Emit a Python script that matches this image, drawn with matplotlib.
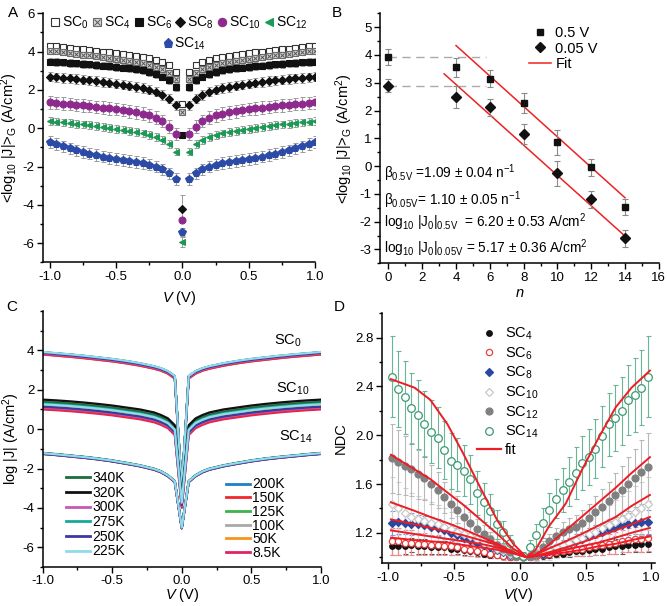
import numpy as np
import matplotlib
matplotlib.use('Agg')
import matplotlib.pyplot as plt
from matplotlib.ticker import MultipleLocator
from matplotlib.lines import Line2D

plt.rcParams['font.family'] = ['Liberation Sans', 'DejaVu Sans']
plt.rcParams['mathtext.fontset'] = 'custom'
plt.rcParams['mathtext.rm'] = 'Liberation Sans'
plt.rcParams['mathtext.it'] = 'Liberation Sans:italic'
plt.rcParams['mathtext.default'] = 'regular'
plt.rcParams['axes.unicode_minus'] = False

# ---- panel A: <log|J|>_G vs V (positive half, mirrored to negative bias)
a_pos = [0.05, 0.10, 0.15, 0.20, 0.25, 0.30, 0.35, 0.40, 0.45, 0.50,
         0.55, 0.60, 0.65, 0.70, 0.75, 0.80, 0.85, 0.90, 0.95, 1.00]
a_sc0 = [2.96, 3.30, 3.47, 3.58, 3.66, 3.73, 3.79, 3.84, 3.88, 3.92,
         3.96, 4.00, 4.04, 4.08, 4.12, 4.16, 4.20, 4.24, 4.28, 4.32]
a_sc4 = [2.55, 2.90, 3.10, 3.22, 3.32, 3.40, 3.47, 3.53, 3.58, 3.63,
         3.68, 3.73, 3.77, 3.81, 3.85, 3.89, 3.93, 3.97, 4.01, 4.05]
a_sc6 = [2.14, 2.50, 2.70, 2.85, 2.95, 3.02, 3.08, 3.13, 3.17, 3.21,
         3.24, 3.27, 3.30, 3.33, 3.36, 3.39, 3.42, 3.44, 3.46, 3.48]
a_sc8 = [1.20, 1.55, 1.75, 1.92, 2.02, 2.10, 2.17, 2.23, 2.28, 2.33,
         2.38, 2.42, 2.46, 2.50, 2.54, 2.57, 2.60, 2.63, 2.66, 2.70]
a_sc10 = [-0.30, 0.09, 0.38, 0.55, 0.67, 0.76, 0.83, 0.89, 0.95, 1.00,
          1.04, 1.08, 1.12, 1.16, 1.19, 1.22, 1.26, 1.29, 1.32, 1.35]
a_sc12 = [-1.22, -0.83, -0.62, -0.47, -0.36, -0.27, -0.20, -0.13, -0.07, -0.02,
          0.03, 0.08, 0.12, 0.16, 0.20, 0.24, 0.28, 0.31, 0.35, 0.38]
a_sc14 = [-2.65, -2.35, -2.15, -2.00, -1.90, -1.82, -1.76, -1.71, -1.66, -1.61,
          -1.55, -1.48, -1.40, -1.32, -1.24, -1.15, -1.05, -0.95, -0.83, -0.72]
a_center = [1.27, 0.87, -0.35, -4.20, -4.80, -5.95, -5.40]
a_err = [0.15, 0.15, 0.20, 0.25, 0.33, 0.20, 0.30]
a_center_err = [0.10, 0.10, 0.10, 0.70, 0.10, 0.25, 0.20]
a_names = ['SC$_0$', 'SC$_4$', 'SC$_6$', 'SC$_8$', 'SC$_{10}$', 'SC$_{12}$', 'SC$_{14}$']

# ---- panel B: values at 0.5 V and 0.05 V vs n
b_n = [0, 4, 6, 8, 10, 12, 14]
b_05 = [3.93, 3.55, 3.15, 2.27, 0.85, -0.05, -1.47]
b_05_err = [0.30, 0.35, 0.30, 0.35, 0.45, 0.30, 0.30]
b_005 = [2.90, 2.50, 2.12, 1.15, -0.25, -1.20, -2.60]
b_005_err = [0.25, 0.40, 0.30, 0.35, 0.45, 0.30, 0.30]
b_fit05_n = [4.0, 14.0]
b_fit05_y = [4.34, -1.14]
b_fit005_n = [3.3, 14.0]
b_fit005_y = [3.32, -2.52]

# ---- panel C: temperature dependent J(V)
c_pos = [0.05, 0.10, 0.15, 0.20, 0.30, 0.40, 0.50, 0.60, 0.70, 0.80, 0.90, 1.00]
c_sc0 = [2.70, 2.95, 3.10, 3.20, 3.35, 3.47, 3.57, 3.65, 3.73, 3.80, 3.86, 3.92]
c_sc10 = [0.20, 0.55, 0.72, 0.85, 1.00, 1.10, 1.20, 1.28, 1.35, 1.41, 1.46, 1.50]
c_sc14 = [-2.65, -2.35, -2.15, -2.02, -1.85, -1.72, -1.60, -1.50, -1.42, -1.35, -1.28, -1.22]
c_center = [-3.0, -3.5, -5.0]
temps = ['340K', '320K', '300K', '275K', '250K', '225K',
         '200K', '150K', '125K', '100K', '50K', '8.5K']
temp_colors = ['#1b6e3c', '#111111', '#c55ab5', '#16a89a', '#3a3aa0', '#8fdbea',
               '#1f7fc4', '#f0282d', '#3cb44a', '#a8a8a8', '#f7941d', '#e0245e']
off_sc0 = [-0.03, -0.02, -0.08, -0.02, -0.05, 0.0, -0.01, -0.12, -0.04, -0.03, -0.10, -0.13]
off_sc10 = [-0.12, 0.0, -0.40, -0.20, -0.36, -0.24, -0.22, -0.45, -0.15, -0.08, -0.30, -0.50]
off_sc14 = [0.0, 0.0, -0.03, 0.0, -0.04, 0.0, -0.01, -0.03, 0.0, 0.02, -0.02, -0.04]

# ---- panel D: normalized differential conductance
d_v = np.arange(-0.975, 1.0, 0.05)
d_sc4 = [1.09, 1.09, 1.09, 1.10, 1.09, 1.09, 1.08, 1.08, 1.08, 1.07, 1.07, 1.06, 1.05, 1.04, 1.03, 1.02, 1.02, 1.01, 1.00, 1.00,
         1.00, 1.00, 1.01, 1.01, 1.02, 1.03, 1.03, 1.04, 1.05, 1.05, 1.06, 1.07, 1.07, 1.08, 1.09, 1.09, 1.10, 1.10, 1.11, 1.11]
d_sc6 = [1.13, 1.13, 1.12, 1.12, 1.11, 1.11, 1.10, 1.10, 1.09, 1.09, 1.08, 1.07, 1.06, 1.05, 1.04, 1.03, 1.02, 1.01, 1.00, 1.00,
         1.00, 1.00, 1.01, 1.02, 1.03, 1.04, 1.05, 1.06, 1.07, 1.07, 1.08, 1.09, 1.10, 1.11, 1.12, 1.13, 1.14, 1.15, 1.15, 1.16]
d_sc8 = [1.28, 1.29, 1.28, 1.27, 1.27, 1.26, 1.25, 1.24, 1.22, 1.20, 1.18, 1.16, 1.14, 1.12, 1.10, 1.08, 1.06, 1.04, 1.02, 1.01,
         1.00, 1.01, 1.02, 1.03, 1.05, 1.07, 1.09, 1.11, 1.13, 1.15, 1.17, 1.19, 1.21, 1.23, 1.25, 1.26, 1.27, 1.28, 1.29, 1.29]
d_sc10 = [1.44, 1.40, 1.36, 1.33, 1.31, 1.30, 1.28, 1.27, 1.25, 1.23, 1.21, 1.19, 1.17, 1.15, 1.12, 1.10, 1.07, 1.05, 1.03, 1.01,
          1.00, 1.01, 1.02, 1.04, 1.06, 1.08, 1.10, 1.12, 1.14, 1.16, 1.19, 1.21, 1.24, 1.26, 1.29, 1.31, 1.34, 1.37, 1.40, 1.44]
d_sc12 = [1.81, 1.78, 1.75, 1.72, 1.68, 1.65, 1.60, 1.55, 1.49, 1.44, 1.39, 1.33, 1.28, 1.23, 1.19, 1.15, 1.10, 1.07, 1.04, 1.01,
          1.00, 1.01, 1.02, 1.08, 1.13, 1.17, 1.21, 1.23, 1.25, 1.28, 1.32, 1.37, 1.41, 1.46, 1.51, 1.55, 1.60, 1.65, 1.70, 1.74]
d_sc14 = [2.48, 2.38, 2.31, 2.22, 2.17, 2.09, 2.03, 1.98, 1.88, 1.79, 1.76, 1.71, 1.64, 1.53, 1.45, 1.38, 1.27, 1.21, 1.12, 1.03,
          1.01, 1.08, 1.18, 1.28, 1.39, 1.48, 1.55, 1.62, 1.69, 1.77, 1.82, 1.89, 1.99, 2.09, 2.14, 2.20, 2.29, 2.33, 2.39, 2.48]
# error half-widths for |V| = 0.025 ... 0.975
e_sc4 = [0.01, 0.01, 0.02, 0.02, 0.03, 0.03, 0.03, 0.04, 0.04, 0.04, 0.05, 0.05, 0.05, 0.05, 0.06, 0.06, 0.06, 0.06, 0.07, 0.07]
e_sc6 = [0.01, 0.02, 0.03, 0.03, 0.04, 0.04, 0.05, 0.05, 0.06, 0.06, 0.07, 0.07, 0.08, 0.08, 0.09, 0.09, 0.10, 0.10, 0.11, 0.11]
e_sc8 = [0.01, 0.02, 0.03, 0.03, 0.04, 0.04, 0.05, 0.05, 0.06, 0.06, 0.07, 0.07, 0.07, 0.08, 0.08, 0.08, 0.09, 0.09, 0.10, 0.10]
e_sc10 = [0.02, 0.03, 0.05, 0.06, 0.08, 0.09, 0.10, 0.11, 0.12, 0.13, 0.14, 0.15, 0.16, 0.17, 0.18, 0.19, 0.20, 0.21, 0.22, 0.22]
e_sc12 = [0.02, 0.03, 0.04, 0.05, 0.06, 0.07, 0.08, 0.09, 0.10, 0.11, 0.12, 0.13, 0.15, 0.16, 0.18, 0.20, 0.22, 0.24, 0.26, 0.28]
e_sc14 = [0.03, 0.06, 0.09, 0.12, 0.14, 0.16, 0.18, 0.20, 0.21, 0.22, 0.23, 0.24, 0.25, 0.26, 0.27, 0.28, 0.29, 0.30, 0.31, 0.33]
d_fit_v = [-0.98, -0.80, -0.68, -0.55, -0.43, -0.30, -0.17, -0.05, 0.05, 0.12, 0.22, 0.35, 0.47, 0.60, 0.73, 0.85, 0.99]
fit_sc4 = [1.16, 1.14, 1.13, 1.12, 1.10, 1.08, 1.06, 1.03, 1.00, 1.01, 1.02, 1.04, 1.06, 1.09, 1.11, 1.14, 1.17]
fit_sc6 = [1.22, 1.19, 1.17, 1.15, 1.13, 1.11, 1.08, 1.04, 1.00, 1.01, 1.03, 1.06, 1.09, 1.12, 1.16, 1.20, 1.24]
fit_sc8 = [1.31, 1.27, 1.24, 1.21, 1.18, 1.14, 1.10, 1.04, 1.00, 1.01, 1.04, 1.08, 1.12, 1.17, 1.22, 1.27, 1.33]
fit_sc10 = [1.45, 1.38, 1.33, 1.28, 1.23, 1.17, 1.11, 1.04, 1.00, 1.02, 1.07, 1.13, 1.19, 1.26, 1.33, 1.42, 1.51]
fit_sc12 = [1.84, 1.72, 1.64, 1.53, 1.43, 1.31, 1.19, 1.07, 1.00, 1.02, 1.10, 1.22, 1.33, 1.45, 1.57, 1.69, 1.82]
fit_sc14 = [2.46, 2.39, 2.29, 2.09, 1.85, 1.57, 1.30, 1.11, 1.00, 1.06, 1.25, 1.44, 1.71, 1.98, 2.23, 2.39, 2.53]


def style(ax):
    for s in ['top', 'right']:
        ax.spines[s].set_visible(False)
    for s in ['left', 'bottom']:
        ax.spines[s].set_linewidth(1.1)
    ax.tick_params(which='both', direction='out', labelsize=9.5, width=1, pad=2)
    ax.tick_params(which='major', length=4)
    ax.tick_params(which='minor', length=2)


fig = plt.figure(figsize=(6.67, 6.06), dpi=100)

# ================= A
axA = fig.add_axes([0.0645, 0.567, 0.408, 0.411])
style(axA)
pos = np.array(a_pos)
a_series = [a_sc0, a_sc4, a_sc6, a_sc8, a_sc10, a_sc12, a_sc14]
a_mark = ['s', 's', 's', 'D', 'o', '<', 'p']
a_face = ['white', '#d8d8d8', '#111111', '#111111', '#8e2a8e', '#1b9a55', '#2b4ba6']
a_edge = ['#333333', '#6a6a6a', '#111111', '#111111', '#8e2a8e', '#1b9a55', '#2b4ba6']
a_ms = [4.5, 4.5, 4.5, 4.5, 5, 5, 5.5]
a_handles = []
for i, vals in enumerate(a_series):
    vals = np.array(vals)
    xv = np.r_[-pos[::-1], pos]
    yv = np.r_[vals[::-1], vals]
    axA.errorbar(xv, yv, yerr=a_err[i], fmt='none', ecolor='#9a9a9a',
                 elinewidth=0.7, capsize=1.8, capthick=0.7, zorder=1)
    axA.errorbar([0.0], [a_center[i]], yerr=a_center_err[i], fmt='none', ecolor='#9a9a9a',
                 elinewidth=0.7, capsize=1.8, capthick=0.7, zorder=1)
    axA.plot(np.r_[xv, 0.0], np.r_[yv, a_center[i]], ls='none', marker=a_mark[i],
             ms=a_ms[i], mfc=a_face[i], mec=a_edge[i], mew=0.8, zorder=2)
    h = Line2D([], [], ls='none', marker=a_mark[i], ms=a_ms[i] + 1,
               mfc=a_face[i], mec=a_edge[i], mew=0.8)
    if i == 1:
        # crossed square for SC4
        axA.plot(np.r_[xv, 0.0], np.r_[yv, a_center[i]], ls='none', marker='x',
                 ms=a_ms[i] - 1.2, mec='#555555', mew=0.7, zorder=2)
        h = (h, Line2D([], [], ls='none', marker='x', ms=a_ms[i] - 0.2, mec='#555555', mew=0.7))
    a_handles.append(h)
axA.set_xlim(-1.05, 1.0)
axA.set_ylim(-7, 6)
axA.set_xticks([-1.0, -0.5, 0.0, 0.5, 1.0])
axA.set_yticks([-6, -4, -2, 0, 2, 4, 6])
axA.xaxis.set_minor_locator(MultipleLocator(0.25))
axA.yaxis.set_minor_locator(MultipleLocator(1))
axA.set_ylabel('<log$_{10}$ |J|>$_G$ (A/cm$^2$)', fontsize=10.5)
axA.yaxis.set_label_coords(-0.083, 0.5)
axA.set_xlabel('$\\mathit{V}$ (V)', fontsize=10.5)
axA.xaxis.set_label_coords(0.5, -0.107)
legA = axA.legend(a_handles[:6], a_names[:6], ncol=6, loc='upper center',
                  bbox_to_anchor=(0.5, 0.995), frameon=False, fontsize=10,
                  handlelength=0.7, handletextpad=0.15, columnspacing=0.25,
                  borderpad=0, borderaxespad=0)
axA.add_artist(legA)
axA.legend(a_handles[6:], a_names[6:], loc='upper center',
           bbox_to_anchor=(0.52, 0.91), frameon=False, fontsize=10,
           handlelength=0.7, handletextpad=0.15, borderpad=0, borderaxespad=0)

# ================= B
axB = fig.add_axes([0.5697, 0.5655, 0.418, 0.4125])
style(axB)
axB.plot([0, 5.8], [b_05[0], b_05[0]], color='#aaaaaa', lw=1, dashes=(6, 4), zorder=1)
axB.plot([0, 5.8], [b_005[0], b_005[0]], color='#aaaaaa', lw=1, dashes=(6, 4), zorder=1)
axB.errorbar(b_n, b_05, yerr=b_05_err, fmt='s', color='#111111', ms=5,
             ecolor='#8a8a8a', elinewidth=0.8, capsize=2, capthick=0.8, zorder=3)
axB.errorbar(b_n, b_005, yerr=b_005_err, fmt='D', color='#111111', ms=5,
             ecolor='#8a8a8a', elinewidth=0.8, capsize=2, capthick=0.8, zorder=3)
axB.plot(b_fit05_n, b_fit05_y, color='#ee2222', lw=1.1, zorder=2)
axB.plot(b_fit005_n, b_fit005_y, color='#ee2222', lw=1.1, zorder=2)
axB.set_xlim(-0.5, 16)
axB.set_ylim(-3.5, 5.5)
axB.set_xticks(range(0, 17, 2))
axB.set_yticks(range(-3, 6))
axB.xaxis.set_minor_locator(MultipleLocator(1))
axB.yaxis.set_minor_locator(MultipleLocator(0.5))
axB.set_ylabel('<log$_{10}$ |J|>$_G$ (A/cm$^2$)', fontsize=10.5)
axB.yaxis.set_label_coords(-0.09, 0.5)
axB.set_xlabel('$\\mathit{n}$', fontsize=10.5)
axB.xaxis.set_label_coords(0.5, -0.09)
b_handles = [Line2D([], [], ls='none', marker='s', ms=5, color='#111111'),
             Line2D([], [], ls='none', marker='D', ms=5, color='#111111'),
             Line2D([], [], color='#ee2222', lw=1.1)]
axB.legend(b_handles, ['0.5 V', '0.05 V', 'Fit'], loc='upper left',
           bbox_to_anchor=(0.535, 0.95), frameon=False, fontsize=10.5,
           handlelength=1.5, handletextpad=0.3, labelspacing=0.12,
           borderpad=0, borderaxespad=0)
b_texts = ['β$_{0.5V}$ =1.09 ± 0.04 n$^{-1}$',
           'β$_{0.05V}$= 1.10 ± 0.05 n$^{-1}$',
           'log$_{10}$ |J$_0$|$_{0.5V}$  = 6.20 ± 0.53 A/cm$^2$',
           'log$_{10}$ |J$_0$|$_{0.05V}$ = 5.17 ± 0.36 A/cm$^2$']
b_text_y = [-0.26, -1.23, -2.02, -2.94]
for t, y in zip(b_texts, b_text_y):
    axB.text(-0.25, y, t, fontsize=9.8, va='center', ha='left')

# ================= C
axC = fig.add_axes([0.064, 0.0644, 0.417, 0.4224])
style(axC)
cp = np.array(c_pos)
draw_order = [11, 10, 9, 8, 7, 6, 0, 1, 3, 2, 4, 5]
for base, cen, offs in [(c_sc0, c_center[0], off_sc0),
                        (c_sc10, c_center[1], off_sc10),
                        (c_sc14, c_center[2], off_sc14)]:
    base = np.array(base)
    for k in draw_order:
        xv = np.r_[-cp[::-1], 0.0, cp]
        yv = np.r_[base[::-1], cen, base] + offs[k]
        axC.plot(xv, yv, color=temp_colors[k], lw=1.6)
axC.set_xlim(-1.0, 1.0)
axC.set_ylim(-7, 6)
axC.set_xticks([-1.0, -0.5, 0.0, 0.5, 1.0])
axC.set_yticks([-6, -4, -2, 0, 2, 4])
axC.xaxis.set_minor_locator(MultipleLocator(0.25))
axC.yaxis.set_minor_locator(MultipleLocator(1))
axC.set_ylabel('log |J| (A/cm$^2$)', fontsize=10.5)
axC.yaxis.set_label_coords(-0.074, 0.5)
axC.set_xlabel('$\\mathit{V}$ (V)', fontsize=10.5)
axC.xaxis.set_label_coords(0.5, -0.074)
axC.text(0.76, 4.47, 'SC$_0$', fontsize=10.5, ha='center', va='center')
axC.text(0.80, 2.03, 'SC$_{10}$', fontsize=10.5, ha='center', va='center')
axC.text(0.82, -0.40, 'SC$_{14}$', fontsize=10.5, ha='center', va='center')
c_handles = [Line2D([], [], color=c, lw=2) for c in temp_colors]
legC1 = axC.legend(c_handles[:6], temps[:6], loc='upper left',
                   bbox_to_anchor=(0.085, 0.375), frameon=False, fontsize=10,
                   handlelength=1.7, handletextpad=0.15, labelspacing=0.05,
                   borderpad=0, borderaxespad=0)
axC.add_artist(legC1)
axC.legend(c_handles[6:], temps[6:], loc='upper left',
           bbox_to_anchor=(0.66, 0.35), frameon=False, fontsize=10,
           handlelength=1.7, handletextpad=0.15, labelspacing=-0.02,
           borderpad=0, borderaxespad=0)

# ================= D
axD = fig.add_axes([0.5723, 0.0705, 0.41, 0.4125])
style(axD)
d_sets = [
    (d_sc4, e_sc4, fit_sc4, 'o', '#111111', '#111111', '#555555', 4),
    (d_sc6, e_sc6, fit_sc6, 'o', 'white', '#e84040', '#f08a8a', 4.5),
    (d_sc8, e_sc8, fit_sc8, 'D', '#2a48a0', '#2a48a0', '#8797d0', 4),
    (d_sc10, e_sc10, fit_sc10, 'D', 'white', '#c8c8c8', '#d0d0d0', 4.5),
    (d_sc12, e_sc12, fit_sc12, 'o', '#808080', '#808080', '#b8b8b8', 5),
    (d_sc14, e_sc14, fit_sc14, 'o', 'white', '#3c9a72', '#6bb597', 5.5),
]
d_handles = []
for vals, eh, fit, mk, fc, ec, errc, ms in d_sets:
    eh = np.array(eh)
    err = np.r_[eh[::-1], eh]
    axD.errorbar(d_v, vals, yerr=err, fmt='none', ecolor=errc,
                 elinewidth=0.8, capsize=1.8, capthick=0.8, zorder=1)
    axD.plot(d_v, vals, ls='none', marker=mk, ms=ms, mfc=fc, mec=ec, mew=0.9, zorder=2)
    d_handles.append(Line2D([], [], ls='none', marker=mk, ms=ms, mfc=fc, mec=ec, mew=0.9))
for vals, eh, fit, mk, fc, ec, errc, ms in d_sets:
    axD.plot(d_fit_v, fit, color='#ee1c25', lw=1.4, zorder=3)
d_handles.append(Line2D([], [], color='#ee1c25', lw=1.6))
axD.set_xlim(-1.05, 1.03)
axD.set_ylim(0.95, 3.0)
axD.set_xticks([-1.0, -0.5, 0.0, 0.5, 1.0])
axD.set_yticks([1.2, 1.6, 2.0, 2.4, 2.8])
axD.xaxis.set_minor_locator(MultipleLocator(0.25))
axD.yaxis.set_minor_locator(MultipleLocator(0.2))
axD.set_ylabel('NDC', fontsize=10.5)
axD.yaxis.set_label_coords(-0.123, 0.5)
axD.set_xlabel('$\\mathit{V}$(V)', fontsize=10.5)
axD.xaxis.set_label_coords(0.5, -0.09)
axD.legend(d_handles, ['SC$_4$', 'SC$_6$', 'SC$_8$', 'SC$_{10}$', 'SC$_{12}$', 'SC$_{14}$', 'fit'],
           loc='upper left', bbox_to_anchor=(0.35, 0.95), frameon=False, fontsize=10.5,
           handlelength=1.6, handletextpad=0.3, labelspacing=0.22,
           borderpad=0, borderaxespad=0)

# panel letters
fig.text(0.012, 0.99, 'A', fontsize=11, va='top')
fig.text(0.497, 0.99, 'B', fontsize=11, va='top')
fig.text(0.010, 0.505, 'C', fontsize=11, va='top')
fig.text(0.500, 0.505, 'D', fontsize=11, va='top')

fig.savefig('out.png', dpi=100)
